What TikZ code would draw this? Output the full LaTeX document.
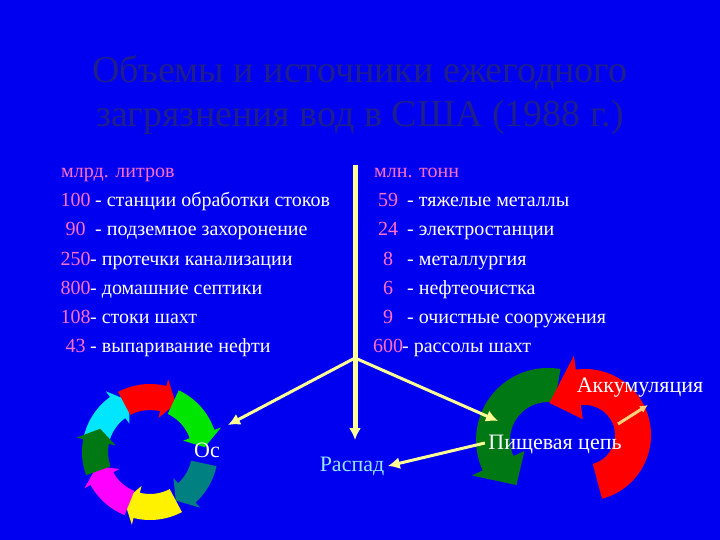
\documentclass[tikz,border=0pt]{standalone}
\usepackage{fontspec}
\setmainfont{Liberation Serif}
\definecolor{bg}{RGB}{0,0,240}
\definecolor{ttl}{RGB}{30,30,140}
\definecolor{num}{RGB}{255,110,200}
\definecolor{yel}{RGB}{255,255,150}
\definecolor{cy}{RGB}{0,230,255}
\definecolor{gr}{RGB}{0,230,0}
\definecolor{dg}{RGB}{0,120,20}
\definecolor{tl}{RGB}{0,128,128}
\definecolor{mg}{RGB}{255,0,255}
\definecolor{rd}{RGB}{255,0,0}
\definecolor{lc}{RGB}{150,230,255}
\newcommand{\arcarr}[9]{% cx cy r1 r2 a1 a2 head widen color (visual angles)
  \pgfmathsetmacro{\aA}{-(#5)}
  \pgfmathsetmacro{\aB}{-(#6)}
  \pgfmathsetmacro{\ss}{(\aB>\aA)?1:-1}
  \pgfmathsetmacro{\bb}{\aB-\ss*#7}
  \pgfmathsetmacro{\rmid}{(#3+#4)/2}
  \pgfmathsetmacro{\ro}{#4+#8}
  \pgfmathsetmacro{\ri}{#3-#8}
  \begin{scope}[shift={(#1,#2)}]
  \fill[#9] (\aA:#4) arc[start angle=\aA,end angle=\bb,radius=#4] -- (\bb:\ro) -- (\aB:\rmid) -- (\bb:\ri) -- (\bb:#3) arc[start angle=\bb,end angle=\aA,radius=#3] -- cycle;
  \end{scope}}
\usetikzlibrary{arrows.meta}
\tikzset{ln/.style={anchor=base west,text=white,font=\fontsize{20}{20}\selectfont,inner sep=0},
  ya/.style={draw=yel,line width=3pt,-{Latex[length=12pt,width=12pt]}}}
\begin{document}
\begin{tikzpicture}[x=1pt,y=-1pt]
\fill[bg] (0,0) rectangle (720,540);
\useasboundingbox (0,0) rectangle (720,540);
\node[text=ttl,font=\fontsize{38}{44}\selectfont,align=center] (title) at (360,95) {Объемы и источники ежегодного\\загрязнения вод в США (1988 г.)};
\newcommand{\lnum}[1]{\textcolor{num}{\makebox[29pt][c]{#1}}}
\newcommand{\rnum}[1]{\textcolor{num}{\makebox[28pt][c]{#1}}}
\node[ln] (l0) at (61,178) {\textcolor{num}{млрд. литров}};
\node[ln] (l1) at (61,207) {\lnum{100} - станции обработки стоков};
\node[ln] (l2) at (61,236) {\lnum{90} - подземное захоронение};
\node[ln] (l3) at (61,265) {\lnum{250}- протечки канализации};
\node[ln] (l4) at (61,294) {\lnum{800}- домашние септики};
\node[ln] (l5) at (61,323) {\lnum{108}- стоки шахт};
\node[ln] (l6) at (61,352) {\lnum{43}- выпаривание нефти};
\node[ln] (r0) at (374,178) {\textcolor{num}{млн. тонн}};
\node[ln] (r1) at (374,207) {\rnum{59} - тяжелые металлы};
\node[ln] (r2) at (374,236) {\rnum{24} - электростанции};
\node[ln] (r3) at (374,265) {\rnum{8} - металлургия};
\node[ln] (r4) at (374,294) {\rnum{6} - нефтеочистка};
\node[ln] (r5) at (374,323) {\rnum{9} - очистные сооружения};
\node[ln] (r6) at (374,352) {\rnum{600}- рассолы шахт};
% ring
\arcarr{150}{452}{42}{68}{168}{112}{14}{7}{cy}
\arcarr{150}{452}{42}{68}{118}{62}{14}{7}{rd}
\arcarr{150}{452}{42}{68}{65}{5}{14}{7}{gr}
\arcarr{150}{452}{42}{68}{-12}{-62}{14}{7}{tl}
\arcarr{150}{452}{42}{68}{-62}{-118}{14}{7}{yellow}
\arcarr{150}{452}{42}{68}{-112}{-165}{14}{7}{mg}
\arcarr{150}{452}{42}{68}{-160}{-205}{14}{7}{dg}
% right U
\arcarr{548}{440}{38}{72}{80}{235}{30}{12}{dg}
\arcarr{585}{435}{30}{66}{-75}{138}{40}{14}{rd}
\coordinate (br) at (355,358);
\coordinate (top) at (355,165);
\node[text=white,font=\fontsize{22}{22}\selectfont] (os) at (207,450) {Ос};
\node[text=lc,font=\fontsize{22}{22}\selectfont] (ras) at (352,466) {Распад};
\node[text=white,font=\fontsize{22}{22}\selectfont] (pc) at (555,445) {Пищевая цепь};
\node[text=white,font=\fontsize{22}{22}\selectfont] (ak) at (640,388) {Аккумуляция};
\draw[yel,line width=5pt] (top) -- (br);
\draw[ya,line width=5pt] (br) -- (355,440);
\draw[ya] (br) -- (228,425);
\draw[ya] (br) -- (498,421);
\draw[ya] (pc.west) ++(0,-2) -- (ras.east);
\draw[draw={rgb,255:red,255;green,210;blue,120},line width=3pt,-{Latex[length=8pt,width=8pt]}] (618,424) -- (648,405);
\end{tikzpicture}
\end{document}
